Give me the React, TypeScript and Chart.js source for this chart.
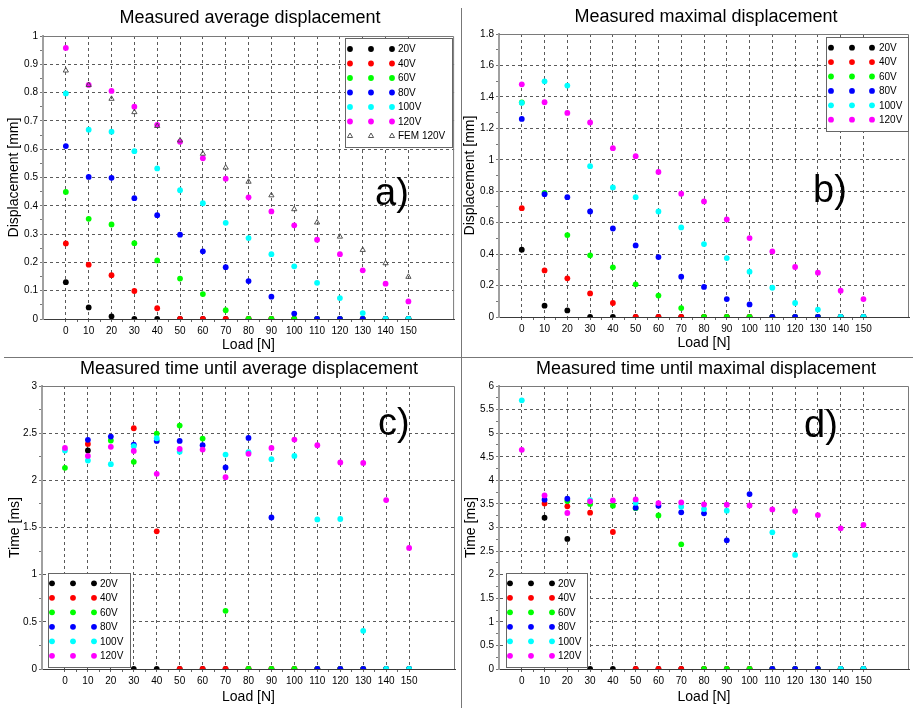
import React, { useEffect, useRef } from 'react';
import { Chart, registerables } from 'chart.js';

Chart.register(...registerables);

// ---------------- DATA ----------------
const loads = [0, 10, 20, 30, 40, 50, 60, 70, 80, 90, 100, 110, 120, 130, 140, 150];
const voltageLabels = ['20V', '40V', '60V', '80V', '100V', '120V'];
const femLabel = 'FEM 120V';

// a) Measured average displacement [mm]
const avg20 = [0.130, 0.041, 0.009, 0, 0, 0, 0, 0, 0, 0, 0, 0, 0, 0, 0, 0];
const avg40 = [0.267, 0.192, 0.155, 0.099, 0.038, 0, 0, 0, 0, 0, 0, 0, 0, 0, 0, 0];
const avg60 = [0.449, 0.354, 0.334, 0.268, 0.207, 0.143, 0.088, 0.031, 0, 0, 0, 0, 0, 0, 0, 0];
const avg80 = [0.611, 0.502, 0.499, 0.427, 0.367, 0.298, 0.239, 0.183, 0.134, 0.079, 0.019, 0, 0, 0, 0, 0];
const avg100 = [0.797, 0.669, 0.662, 0.593, 0.532, 0.455, 0.409, 0.340, 0.286, 0.229, 0.186, 0.128, 0.074, 0.021, 0, 0];
const avg120 = [0.958, 0.827, 0.806, 0.750, 0.686, 0.626, 0.568, 0.496, 0.430, 0.380, 0.331, 0.280, 0.229, 0.172, 0.125, 0.062];
const femAvg120 = [0.878, 0.827, 0.778, 0.731, 0.682, 0.631, 0.584, 0.535, 0.485, 0.437, 0.388, 0.341, 0.291, 0.244, 0.197, 0.149];

// b) Measured maximal displacement [mm]
const max20 = [0.428, 0.072, 0.042, 0, 0, 0, 0, 0, 0, 0, 0, 0, 0, 0, 0, 0];
const max40 = [0.692, 0.296, 0.246, 0.150, 0.089, 0, 0, 0, 0, 0, 0, 0, 0, 0, 0, 0];
const max60 = [1.365, 0.790, 0.521, 0.392, 0.316, 0.208, 0.136, 0.057, 0, 0, 0, 0, 0, 0, 0, 0];
const max80 = [1.260, 0.781, 0.762, 0.671, 0.563, 0.455, 0.381, 0.256, 0.191, 0.114, 0.080, 0, 0, 0, 0, 0];
const max100 = [1.362, 1.499, 1.472, 0.959, 0.824, 0.762, 0.671, 0.570, 0.464, 0.375, 0.288, 0.186, 0.089, 0.047, 0, 0];
const max120 = [1.480, 1.366, 1.298, 1.237, 1.074, 1.023, 0.923, 0.784, 0.735, 0.620, 0.502, 0.417, 0.318, 0.282, 0.167, 0.114];

// c) Measured time until average displacement [ms]
const tAvg20 = [null, 2.316, null, 0, 0, 0, 0, 0, 0, 0, 0, 0, 0, 0, 0, 0];
const tAvg40 = [null, 2.386, null, 2.552, 1.459, 0, 0, 0, 0, 0, 0, 0, 0, 0, 0, 0];
const tAvg60 = [2.133, null, 2.422, 2.196, 2.496, 2.580, 2.443, 0.617, 0, 0, 0, 0, 0, 0, 0, 0];
const tAvg80 = [null, 2.429, 2.464, 2.379, 2.418, 2.418, 2.372, 2.136, 2.450, 1.607, null, 0, 0, 0, 0, 0];
const tAvg100 = [2.316, 2.210, 2.171, 2.362, 2.446, 2.302, null, 2.273, 2.298, 2.224, 2.259, 1.586, 1.590, 0.405, 0, 0];
const tAvg120 = [2.344, 2.259, 2.355, 2.312, 2.069, 2.333, 2.326, 2.034, 2.281, 2.344, 2.432, 2.372, 2.189, 2.185, 1.791, 1.283];

// d) Measured time until maximal displacement [ms]
const tMax20 = [null, 3.208, 2.757, 0, 0, 0, 0, 0, 0, 0, 0, 0, 0, 0, 0, 0];
const tMax40 = [null, 3.511, 3.448, 3.314, 2.905, 0, 0, 0, 0, 0, 0, 0, 0, 0, 0, 0];
const tMax60 = [null, null, 3.561, 3.500, 3.462, 3.410, 3.257, 2.644, 0, 0, 0, 0, 0, 0, 0, 0];
const tMax80 = [null, 3.589, 3.610, null, null, 3.420, 3.462, 3.321, 3.300, 2.729, 3.709, 0, 0, 0, 0, 0];
const tMax100 = [5.697, null, null, 3.582, null, 3.525, null, 3.441, 3.391, 3.356, null, 2.898, 2.418, null, 0, 0];
const tMax120 = [4.646, 3.680, 3.307, 3.554, 3.575, 3.596, 3.518, 3.532, 3.490, 3.483, 3.469, 3.384, 3.349, 3.264, 2.982, 3.053];

const xTickValues = [0, 10, 20, 30, 40, 50, 60, 70, 80, 90, 100, 110, 120, 130, 140, 150];

// ---------------- STYLE ----------------
const FONT = '"Liberation Sans", Arial, Helvetica, sans-serif';
const seriesColors = ['#000000', '#ff0000', '#00ff00', '#0000ff', '#00ffff', '#ff00ff'];
const POINT_R = 2.9;

type Legend = { x: number; y: number; w: number; h: number; row0: number; rowH: number; symX: number[]; textX: number };
type Panel = {
  key: string;
  canvas: { left: number; top: number; w: number; h: number };
  area: { L: number; T: number; R: number; B: number };
  yMax: number; yMajor: number; yMinor: number;
  yTitle: string; yTitlePad: number; xTitlePad: number;
  title: string; titleX: number; titleY: number;
  letter: string; letterX: number; letterY: number;
  legend: Legend;
  series: (number | null)[][];
  fem?: number[];
};

const panels: Panel[] = [
  {
    key: 'a',
    canvas: { left: 0, top: 0, w: 459, h: 356 },
    area: { L: 43, T: 36, R: 457, B: 319 },
    yMax: 1, yMajor: 0.1, yMinor: 0.05,
    yTitle: 'Displacement [mm]', yTitlePad: 7, xTitlePad: 2.5,
    title: 'Measured average displacement', titleX: 250, titleY: 18,
    letter: 'a)', letterX: 375, letterY: 205,
    legend: { x: 345, y: 38, w: 107, h: 109, row0: 49, rowH: 14.5, symX: [350, 371, 392], textX: 398 },
    series: [avg20, avg40, avg60, avg80, avg100, avg120],
    fem: femAvg120,
  },
  {
    key: 'b',
    canvas: { left: 462, top: 0, w: 451, h: 356 },
    area: { L: 37, T: 34, R: 450, B: 317 },
    yMax: 1.8, yMajor: 0.2, yMinor: 0.1,
    yTitle: 'Displacement [mm]', yTitlePad: 1, xTitlePad: 2.7,
    title: 'Measured maximal displacement', titleX: 244, titleY: 17,
    letter: 'b)', letterX: 351, letterY: 202,
    legend: { x: 364, y: 37, w: 82, h: 94, row0: 47.7, rowH: 14.4, symX: [369, 390, 410], textX: 417 },
    series: [max20, max40, max60, max80, max100, max120],
  },
  {
    key: 'c',
    canvas: { left: 0, top: 360, w: 459, h: 348 },
    area: { L: 42, T: 26, R: 456, B: 309 },
    yMax: 3, yMajor: 0.5, yMinor: 0.25,
    yTitle: 'Time [ms]', yTitlePad: 8, xTitlePad: 1.3,
    title: 'Measured time until average displacement', titleX: 249, titleY: 9.5,
    letter: 'c)', letterX: 378, letterY: 75,
    legend: { x: 48, y: 213, w: 82, h: 94, row0: 223.3, rowH: 14.5, symX: [52, 73, 94], textX: 100 },
    series: [tAvg20, tAvg40, tAvg60, tAvg80, tAvg100, tAvg120],
  },
  {
    key: 'd',
    canvas: { left: 462, top: 360, w: 451, h: 348 },
    area: { L: 37, T: 26, R: 450, B: 309 },
    yMax: 6, yMajor: 0.5, yMinor: 0.25,
    yTitle: 'Time [ms]', yTitlePad: 2, xTitlePad: 1.3,
    title: 'Measured time until maximal displacement', titleX: 244, titleY: 9.5,
    letter: 'd)', letterX: 342, letterY: 77,
    legend: { x: 44, y: 213, w: 81, h: 94, row0: 223.3, rowH: 14.5, symX: [48, 69, 90], textX: 96 },
    series: [tMax20, tMax40, tMax60, tMax80, tMax100, tMax120],
  },
];

const X_AXIS_H = 36;

function isMult(v: number, step: number) {
  const r = v / step;
  return Math.abs(r - Math.round(r)) < 1e-6;
}
function fmt(v: number) {
  return String(Math.round(v * 1000) / 1000);
}

function drawTriangle(ctx: CanvasRenderingContext2D, x: number, y: number, r: number) {
  let rad = 0;
  const step = (Math.PI * 2) / 3;
  ctx.beginPath();
  ctx.moveTo(x + Math.sin(rad) * r, y - Math.cos(rad) * r);
  rad += step;
  ctx.lineTo(x + Math.sin(rad) * r, y - Math.cos(rad) * r);
  rad += step;
  ctx.lineTo(x + Math.sin(rad) * r, y - Math.cos(rad) * r);
  ctx.closePath();
}

function buildChart(canvas: HTMLCanvasElement, p: Panel) {
  const datasets: any[] = p.series.map((vals, i) => ({
    label: voltageLabels[i],
    data: loads.map((x, k) => ({ x, y: vals[k] })).filter((d) => d.y !== null && d.y !== undefined),
    backgroundColor: seriesColors[i],
    borderColor: seriesColors[i],
    borderWidth: 0,
    pointRadius: POINT_R,
    pointStyle: 'circle',
    showLine: false,
    order: 20 - i,
  }));
  if (p.fem) {
    datasets.push({
      label: femLabel,
      data: loads.map((x, k) => ({ x, y: p.fem![k] })),
      backgroundColor: 'rgba(0,0,0,0)',
      borderColor: '#444444',
      borderWidth: 0.9,
      pointRadius: 3,
      pointStyle: 'triangle',
      showLine: false,
      order: 1,
    });
  }

  const yVals: number[] = [];
  for (let v = 0; v <= p.yMax + 1e-9; v += p.yMinor) yVals.push(Math.round(v * 1000) / 1000);
  const xVals: number[] = [];
  for (let v = 0; v <= 150; v += 5) xVals.push(v);

  const decor = {
    id: 'decor_' + p.key,
    beforeDatasetsDraw(chart: any) {
      const { ctx, chartArea: a } = chart;
      ctx.save();
      ctx.strokeStyle = '#7a7a7a';
      ctx.lineWidth = 1;
      ctx.beginPath();
      ctx.moveTo(a.left, a.top + 0.5);
      ctx.lineTo(a.right - 0.5, a.top + 0.5);
      ctx.lineTo(a.right - 0.5, a.bottom);
      ctx.stroke();
      ctx.restore();
    },
    afterDraw(chart: any) {
      const ctx: CanvasRenderingContext2D = chart.ctx;
      ctx.save();
      // title
      ctx.fillStyle = '#000';
      ctx.font = `18px ${FONT}`;
      ctx.textAlign = 'center';
      ctx.textBaseline = 'middle';
      ctx.fillText(p.title, p.titleX, p.titleY);
      // panel letter
      ctx.font = `38px ${FONT}`;
      ctx.textAlign = 'left';
      ctx.textBaseline = 'alphabetic';
      ctx.fillText(p.letter, p.letterX, p.letterY);
      // legend
      const L = p.legend;
      ctx.fillStyle = '#ffffff';
      ctx.fillRect(L.x, L.y, L.w, L.h);
      ctx.strokeStyle = '#666666';
      ctx.lineWidth = 1;
      ctx.strokeRect(L.x + 0.5, L.y + 0.5, L.w, L.h);
      const labels = p.fem ? [...voltageLabels, femLabel] : voltageLabels;
      ctx.font = `10px ${FONT}`;
      ctx.textBaseline = 'middle';
      labels.forEach((lab, i) => {
        const y = L.row0 + i * L.rowH;
        L.symX.forEach((sx) => {
          if (i < 6) {
            ctx.fillStyle = seriesColors[i];
            ctx.beginPath();
            ctx.arc(sx, y, POINT_R, 0, Math.PI * 2);
            ctx.fill();
          } else {
            ctx.strokeStyle = '#444444';
            ctx.lineWidth = 0.9;
            drawTriangle(ctx, sx, y, 3);
            ctx.stroke();
          }
        });
        ctx.fillStyle = '#000';
        ctx.fillText(lab, L.textX, y + 0.5);
      });
      ctx.restore();
    },
  };

  return new Chart(canvas, {
    type: 'scatter',
    data: { datasets },
    options: {
      animation: false,
      responsive: false,
      devicePixelRatio: 1,
      events: [],
      layout: {
        padding: {
          top: p.area.T,
          left: 0,
          right: p.canvas.w - p.area.R,
          bottom: p.canvas.h - p.area.B - X_AXIS_H,
        },
      },
      plugins: {
        legend: { display: false },
        tooltip: { enabled: false },
        title: { display: false },
      },
      scales: {
        x: {
          type: 'linear',
          min: -10,
          max: 170,
          afterBuildTicks: (scale: any) => {
            scale.ticks = xVals.map((v) => ({ value: v }));
          },
          afterFit: (scale: any) => {
            scale.height = X_AXIS_H;
          },
          ticks: {
            autoSkip: false,
            maxRotation: 0,
            padding: 3,
            color: '#000',
            font: { family: FONT, size: 10 },
            callback: (v: any) => (isMult(Number(v), 10) && xTickValues.includes(Number(v)) ? String(v) : ''),
          },
          grid: {
            color: (ctx: any) => {
              const v = ctx.tick ? ctx.tick.value : NaN;
              return isMult(v, 10) && v >= 0 && v <= 150 ? '#5a5a5a' : 'rgba(0,0,0,0)';
            },
            tickColor: '#666666',
            tickLength: 3,
            lineWidth: 1,
          },
          border: { display: true, color: '#3a3a3a', width: 1, dash: [3, 3] },
          title: {
            display: true,
            text: 'Load [N]',
            color: '#000',
            font: { family: FONT, size: 14, lineHeight: 1 },
            padding: { top: 0, bottom: p.xTitlePad },
          },
        },
        y: {
          type: 'linear',
          min: 0,
          max: p.yMax,
          afterBuildTicks: (scale: any) => {
            scale.ticks = yVals.map((v) => ({ value: v }));
          },
          afterFit: (scale: any) => {
            scale.width = p.area.L;
          },
          ticks: {
            autoSkip: false,
            padding: 2,
            color: '#000',
            font: { family: FONT, size: 10 },
            callback: (v: any) => (isMult(Number(v), p.yMajor) ? fmt(Number(v)) : ''),
          },
          grid: {
            color: (ctx: any) => {
              const v = ctx.tick ? ctx.tick.value : NaN;
              if (!isMult(v, p.yMajor)) return 'rgba(0,0,0,0)';
              if (v <= 1e-9 || v >= p.yMax - 1e-9) return 'rgba(0,0,0,0)';
              return '#5a5a5a';
            },
            tickColor: '#777777',
            tickLength: 3,
            lineWidth: 1,
          },
          border: { display: true, color: '#a0a0a0', width: 2, dash: [3, 3] },
          title: {
            display: true,
            text: p.yTitle,
            color: '#000',
            font: { family: FONT, size: 14, lineHeight: 1 },
            padding: { top: p.yTitlePad, bottom: 0 },
          },
        },
      },
    } as any,
    plugins: [decor],
  });
}

function PanelChart({ p }: { p: Panel }) {
  const ref = useRef<HTMLCanvasElement | null>(null);
  useEffect(() => {
    if (!ref.current) return;
    const chart = buildChart(ref.current, p);
    return () => chart.destroy();
  }, [p]);
  return (
    <canvas
      ref={ref}
      width={p.canvas.w}
      height={p.canvas.h}
      style={{
        position: 'absolute',
        left: p.canvas.left,
        top: p.canvas.top,
        width: p.canvas.w,
        height: p.canvas.h,
      }}
    />
  );
}

export default function App() {
  return (
    <div
      style={{
        position: 'absolute',
        left: 0,
        top: 0,
        width: 913,
        height: 708,
        background: '#ffffff',
        overflow: 'hidden',
        fontFamily: FONT,
      }}
    >
      <div style={{ position: 'absolute', left: 461, top: 8, width: 1, height: 700, background: '#777777' }} />
      <div style={{ position: 'absolute', left: 4, top: 357, width: 909, height: 1, background: '#777777' }} />
      {panels.map((p) => (
        <PanelChart key={p.key} p={p} />
      ))}
    </div>
  );
}
